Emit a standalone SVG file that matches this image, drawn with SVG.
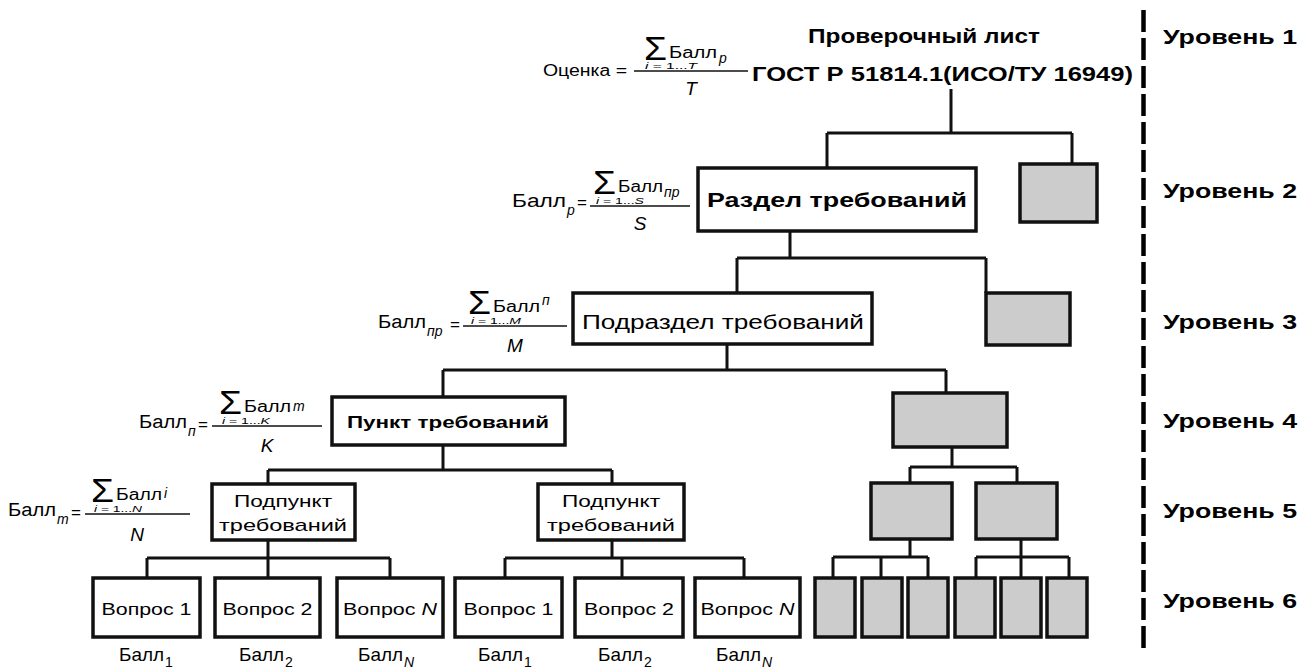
<svg xmlns="http://www.w3.org/2000/svg" width="1301" height="670" viewBox="0 0 1301 670">
<style>
text{font-family:"Liberation Sans",Arial,sans-serif;fill:#000}
.b{font-weight:bold}
.i{font-style:italic}
.box{fill:#fff;stroke:#111;stroke-width:3.5}
.g{fill:#cccccc;stroke:#111;stroke-width:3.5}
.c{fill:none;stroke:#111;stroke-width:3}
.fl{stroke:#111;stroke-width:1.5}
.sig{font-size:33px}
.lim{font-size:9.5px}
.lv{font-weight:bold;font-size:21px}
</style>
<rect width="1301" height="670" fill="#fff"/>
<g id="connectors">
<path class="c" d="M951 89V133M827 133H1072M827 133V168M1072 133V164"/>
<path class="c" d="M790 231V258M737 258H986M737 258V293M986 258V293"/>
<path class="c" d="M727 344V370M443 370H946M443 370V397M946 370V393"/>
<path class="c" d="M443 445V470M268 470H612M268 470V484M612 470V484"/>
<path class="c" d="M952 447V467M910 467H1017M910 467V483M1017 467V483"/>
<path class="c" d="M268 540V558M147 558H390M147 558V578M268 558V578M390 558V578"/>
<path class="c" d="M612 540V558M505 558H744M505 558V578M622 558V578M744 558V578"/>
<path class="c" d="M910 539V557M833 557H928M833 557V578M881 557V578M928 557V578"/>
<path class="c" d="M1021 539V557M976 557H1069M976 557V578M1021 557V578M1069 557V578"/>
<line x1="1143.5" y1="10" x2="1143.5" y2="648" stroke="#000" stroke-width="4.5" stroke-dasharray="22 6"/>
</g>
<g id="root">
<text class="b" x="808" y="43" font-size="21" textLength="232" lengthAdjust="spacingAndGlyphs">Проверочный лист</text>
<text class="b" x="752" y="81" font-size="21" textLength="381" lengthAdjust="spacingAndGlyphs">ГОСТ Р 51814.1(ИСО/ТУ 16949)</text>
</g>
<g id="formula1">
<text x="543" y="76" font-size="16" textLength="84" lengthAdjust="spacingAndGlyphs">Оценка =</text>
<text class="sig" x="644" y="60" textLength="23" lengthAdjust="spacingAndGlyphs">Σ</text>
<text x="669" y="58" font-size="16" textLength="48" lengthAdjust="spacingAndGlyphs">Балл</text>
<text class="i" x="719" y="63" font-size="14">р</text>
<text class="lim" x="645" y="69" textLength="52" lengthAdjust="spacingAndGlyphs"><tspan class="i">i</tspan> = 1...<tspan class="i">T</tspan></text>
<line class="fl" x1="634" y1="71" x2="748" y2="71"/>
<text class="i" x="691" y="95" font-size="19" text-anchor="middle">T</text>
</g>
<g id="n-razdel">
<rect class="box" x="698" y="168" width="278" height="63"/>
<text class="b" x="837" y="207" font-size="20" text-anchor="middle" textLength="260" lengthAdjust="spacingAndGlyphs">Раздел требований</text>
</g>
<rect id="g2" class="g" x="1020" y="164" width="77" height="58"/>
<g id="formula2">
<text x="512" y="207" font-size="18" textLength="54" lengthAdjust="spacingAndGlyphs">Балл</text>
<text class="i" x="567" y="215" font-size="14">р</text>
<text x="577" y="208" font-size="17">=</text>
<text class="sig" x="593" y="194" textLength="23" lengthAdjust="spacingAndGlyphs">Σ</text>
<text x="618" y="192" font-size="16" textLength="45" lengthAdjust="spacingAndGlyphs">Балл</text>
<text class="i" x="664" y="197" font-size="14">пр</text>
<text class="lim" x="596" y="204" textLength="48" lengthAdjust="spacingAndGlyphs"><tspan class="i">i</tspan> = 1...<tspan class="i">S</tspan></text>
<line class="fl" x1="590" y1="206" x2="690" y2="206"/>
<text class="i" x="640" y="230" font-size="19" text-anchor="middle">S</text>
</g>
<g id="n-podrazdel">
<rect class="box" x="573" y="293" width="299" height="51"/>
<text x="723" y="329" font-size="20" text-anchor="middle" textLength="282" lengthAdjust="spacingAndGlyphs">Подраздел требований</text>
</g>
<rect id="g3" class="g" x="986" y="293" width="84" height="52"/>
<g id="formula3">
<text x="378" y="328" font-size="18" textLength="48" lengthAdjust="spacingAndGlyphs">Балл</text>
<text class="i" x="427" y="336" font-size="14">пр</text>
<text x="450" y="330" font-size="17">=</text>
<text class="sig" x="468" y="314" textLength="23" lengthAdjust="spacingAndGlyphs">Σ</text>
<text x="493" y="312" font-size="16" textLength="47" lengthAdjust="spacingAndGlyphs">Балл</text>
<text class="i" x="542" y="305" font-size="14">п</text>
<text class="lim" x="471" y="324" textLength="50" lengthAdjust="spacingAndGlyphs"><tspan class="i">i</tspan> = 1...<tspan class="i">M</tspan></text>
<line class="fl" x1="463" y1="326" x2="567" y2="326"/>
<text class="i" x="515" y="352" font-size="19" text-anchor="middle">M</text>
</g>
<g id="n-punkt">
<rect class="box" x="332" y="397" width="233" height="48"/>
<text class="b" x="448" y="428" font-size="17" text-anchor="middle" textLength="202" lengthAdjust="spacingAndGlyphs">Пункт требований</text>
</g>
<rect id="g4" class="g" x="893" y="393" width="114" height="54"/>
<g id="formula4">
<text x="139" y="428" font-size="18" textLength="48" lengthAdjust="spacingAndGlyphs">Балл</text>
<text class="i" x="188" y="436" font-size="14">п</text>
<text x="198" y="430" font-size="17">=</text>
<text class="sig" x="219" y="414" textLength="23" lengthAdjust="spacingAndGlyphs">Σ</text>
<text x="244" y="412" font-size="16" textLength="47" lengthAdjust="spacingAndGlyphs">Балл</text>
<text class="i" x="293" y="411" font-size="14">m</text>
<text class="lim" x="222" y="424" textLength="48" lengthAdjust="spacingAndGlyphs"><tspan class="i">i</tspan> = 1...<tspan class="i">K</tspan></text>
<line class="fl" x1="212" y1="426" x2="322" y2="426"/>
<text class="i" x="267" y="452" font-size="19" text-anchor="middle">K</text>
</g>
<g id="n-podpunkt1">
<rect class="box" x="212" y="484" width="143" height="56"/>
<text x="283" y="507" font-size="17" text-anchor="middle" textLength="98" lengthAdjust="spacingAndGlyphs">Подпункт</text>
<text x="283" y="531" font-size="17" text-anchor="middle" textLength="128" lengthAdjust="spacingAndGlyphs">требований</text>
</g>
<g id="n-podpunkt2">
<rect class="box" x="538" y="484" width="146" height="56"/>
<text x="611" y="507" font-size="17" text-anchor="middle" textLength="98" lengthAdjust="spacingAndGlyphs">Подпункт</text>
<text x="611" y="531" font-size="17" text-anchor="middle" textLength="128" lengthAdjust="spacingAndGlyphs">требований</text>
</g>
<g id="formula5">
<text x="8" y="516" font-size="18" textLength="48" lengthAdjust="spacingAndGlyphs">Балл</text>
<text class="i" x="57" y="524" font-size="14">m</text>
<text x="71" y="518" font-size="17">=</text>
<text class="sig" x="91" y="502" textLength="23" lengthAdjust="spacingAndGlyphs">Σ</text>
<text x="116" y="500" font-size="16" textLength="46" lengthAdjust="spacingAndGlyphs">Балл</text>
<text class="i" x="164" y="498" font-size="14">i</text>
<text class="lim" x="94" y="512" textLength="48" lengthAdjust="spacingAndGlyphs"><tspan class="i">i</tspan> = 1...<tspan class="i">N</tspan></text>
<line class="fl" x1="85" y1="514" x2="190" y2="514"/>
<text class="i" x="137" y="541" font-size="19" text-anchor="middle">N</text>
</g>
<rect id="g5a" class="g" x="871" y="483" width="81" height="56"/>
<rect id="g5b" class="g" x="976" y="483" width="81" height="56"/>
<g id="q1"><rect class="box" x="93" y="578" width="107" height="59"/><text x="146.5" y="615" font-size="17" text-anchor="middle" textLength="90" lengthAdjust="spacingAndGlyphs">Вопрос 1</text></g>
<g id="q2"><rect class="box" x="215" y="578" width="105" height="59"/><text x="267.5" y="615" font-size="17" text-anchor="middle" textLength="90" lengthAdjust="spacingAndGlyphs">Вопрос 2</text></g>
<g id="q3"><rect class="box" x="337" y="578" width="106" height="59"/><text x="390" y="615" font-size="17" text-anchor="middle" textLength="94" lengthAdjust="spacingAndGlyphs">Вопрос <tspan class="i">N</tspan></text></g>
<g id="q4"><rect class="box" x="455" y="578" width="107" height="59"/><text x="508.5" y="615" font-size="17" text-anchor="middle" textLength="90" lengthAdjust="spacingAndGlyphs">Вопрос 1</text></g>
<g id="q5"><rect class="box" x="575" y="578" width="108" height="59"/><text x="629" y="615" font-size="17" text-anchor="middle" textLength="90" lengthAdjust="spacingAndGlyphs">Вопрос 2</text></g>
<g id="q6"><rect class="box" x="695" y="578" width="105" height="59"/><text x="747.5" y="615" font-size="17" text-anchor="middle" textLength="94" lengthAdjust="spacingAndGlyphs">Вопрос <tspan class="i">N</tspan></text></g>
<g id="balls">
<text x="119" y="661" font-size="19" textLength="45" lengthAdjust="spacingAndGlyphs">Балл</text><text x="165" y="667" font-size="14">1</text>
<text x="239" y="661" font-size="19" textLength="45" lengthAdjust="spacingAndGlyphs">Балл</text><text x="285" y="667" font-size="14">2</text>
<text x="358" y="661" font-size="19" textLength="45" lengthAdjust="spacingAndGlyphs">Балл</text><text class="i" x="404" y="667" font-size="14">N</text>
<text x="478" y="661" font-size="19" textLength="45" lengthAdjust="spacingAndGlyphs">Балл</text><text x="524" y="667" font-size="14">1</text>
<text x="598" y="661" font-size="19" textLength="45" lengthAdjust="spacingAndGlyphs">Балл</text><text x="644" y="667" font-size="14">2</text>
<text x="716" y="661" font-size="19" textLength="45" lengthAdjust="spacingAndGlyphs">Балл</text><text class="i" x="762" y="667" font-size="14">N</text>
</g>
<g id="g6">
<rect class="g" x="815" y="578" width="40" height="59"/>
<rect class="g" x="862" y="578" width="40" height="59"/>
<rect class="g" x="908" y="578" width="40" height="59"/>
<rect class="g" x="955" y="578" width="40" height="59"/>
<rect class="g" x="1001" y="578" width="40" height="59"/>
<rect class="g" x="1047" y="578" width="40" height="59"/>
</g>
<g id="levels">
<text class="lv" x="1163" y="44" textLength="134" lengthAdjust="spacingAndGlyphs">Уровень 1</text>
<text class="lv" x="1163" y="198" textLength="134" lengthAdjust="spacingAndGlyphs">Уровень 2</text>
<text class="lv" x="1163" y="329" textLength="134" lengthAdjust="spacingAndGlyphs">Уровень 3</text>
<text class="lv" x="1163" y="428" textLength="134" lengthAdjust="spacingAndGlyphs">Уровень 4</text>
<text class="lv" x="1163" y="518" textLength="134" lengthAdjust="spacingAndGlyphs">Уровень 5</text>
<text class="lv" x="1163" y="608" textLength="134" lengthAdjust="spacingAndGlyphs">Уровень 6</text>
</g>
</svg>
